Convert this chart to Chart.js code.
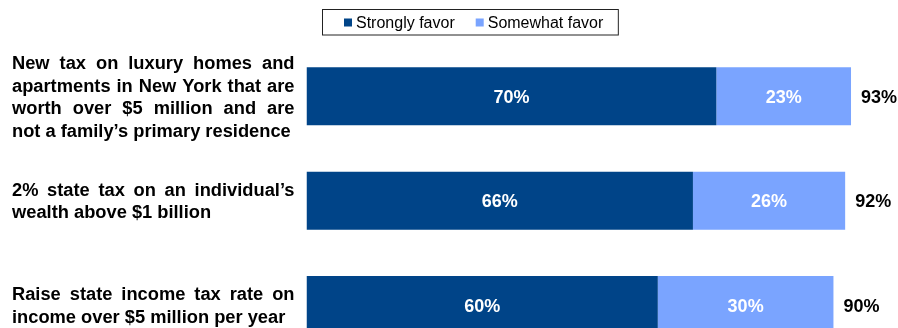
<!DOCTYPE html>
<html>
<head>
<meta charset="utf-8">
<script src="https://cdn.jsdelivr.net/npm/chart.js@4/dist/chart.umd.min.js"></script>
<style>
    html, body { margin: 0; padding: 0; background: #fff; overflow: hidden; }
    #wrap { position: relative; width: 898px; height: 360px; }
</style>
</head>
<body>
<div id="wrap"><canvas id="favorChart"></canvas></div>
<script>
// Survey items (one array of lines per item, as wrapped in the original)
const categories = [
    ['New tax on luxury homes and', 'apartments in New York that are', 'worth over $5 million and are', 'not a family\u2019s primary residence'],
    ['2% state tax on an individual\u2019s', 'wealth above $1 billion'],
    ['Raise state income tax rate on', 'income over $5 million per year']
];
const seriesNames = ['Strongly favor', 'Somewhat favor'];
const stronglyFavor = [70, 66, 60];
const somewhatFavor = [23, 26, 30];
const totalFavor = [93, 92, 90];

const DARK = 'rgb(0, 68, 136)';
const LIGHT = 'rgb(122, 164, 255)';
const FONT = '"Liberation Sans", Arial, sans-serif';

// Justified item labels on the left of each bar
const itemLabels = {
    id: 'itemLabels',
    afterDraw(chart) {
        const ctx = chart.ctx;
        const yScale = chart.scales.y;
        const left = 12, right = 294.5, lineH = 22.5;
        ctx.save();
        ctx.font = 'bold 18.3px ' + FONT;
        ctx.fillStyle = '#000';
        ctx.textBaseline = 'alphabetic';
        ctx.textAlign = 'left';
        chart.data.labels.forEach((lines, i) => {
            const cy = yScale.getPixelForValue(i);
            const firstY = cy - (lines.length - 1) / 2 * lineH;
            lines.forEach((line, j) => {
                const base = firstY + j * lineH + 6.5;
                const words = line.split(' ');
                const isLast = j === lines.length - 1;
                if (isLast || words.length < 2) {
                    ctx.fillText(line, left, base);
                    return;
                }
                const widths = words.map(w => ctx.measureText(w).width);
                const used = widths.reduce((a, b) => a + b, 0);
                const gap = (right - left - used) / (words.length - 1);
                let x = left;
                words.forEach((w, k) => {
                    ctx.fillText(w, x, base);
                    x += widths[k] + gap;
                });
            });
        });
        ctx.restore();
    }
};

// Percent labels inside segments and totals after each bar
const valueLabels = {
    id: 'valueLabels',
    afterDatasetsDraw(chart) {
        const ctx = chart.ctx;
        ctx.save();
        ctx.font = 'bold 18px ' + FONT;
        ctx.textBaseline = 'alphabetic';
        chart.data.datasets.forEach((ds, di) => {
            const meta = chart.getDatasetMeta(di);
            meta.data.forEach((bar, i) => {
                ctx.fillStyle = '#fff';
                ctx.textAlign = 'center';
                ctx.fillText(ds.data[i] + '%', (bar.x + bar.base) / 2, bar.y + 6.4);
            });
        });
        const last = chart.getDatasetMeta(chart.data.datasets.length - 1);
        last.data.forEach((bar, i) => {
            ctx.fillStyle = '#000';
            ctx.textAlign = 'left';
            ctx.fillText(totalFavor[i] + '%', bar.x + 10, bar.y + 6.4);
        });
        ctx.restore();
    }
};

// Boxed legend at the top
const boxedLegend = {
    id: 'boxedLegend',
    afterDraw(chart) {
        const ctx = chart.ctx;
        ctx.save();
        ctx.font = '16px ' + FONT;
        ctx.textBaseline = 'alphabetic';
        ctx.textAlign = 'left';
        const boxL = 322.5, boxT = 9.5, boxH = 25.5;
        let x = boxL + 21.5;
        chart.data.datasets.forEach((ds, i) => {
            ctx.fillStyle = ds.backgroundColor;
            ctx.fillRect(x, 18.5, 8, 8);
            ctx.fillStyle = '#000';
            ctx.fillText(ds.label, x + 12, 28);
            x += 12 + ctx.measureText(ds.label).width + 21;
        });
        const boxR = x - 21 + 15;
        ctx.strokeStyle = '#222';
        ctx.lineWidth = 1;
        ctx.strokeRect(boxL, boxT, boxR - boxL, boxH);
        ctx.restore();
    }
};

new Chart(document.getElementById('favorChart').getContext('2d'), {
    type: 'bar',
    data: {
        labels: categories,
        datasets: [{
            label: seriesNames[0],
            data: stronglyFavor,
            backgroundColor: DARK,
            borderWidth: 0
        }, {
            label: seriesNames[1],
            data: somewhatFavor,
            backgroundColor: LIGHT,
            borderWidth: 0
        }]
    },
    options: {
        indexAxis: 'y',
        responsive: true,
        maintainAspectRatio: false,
        animation: false,
        layout: {
            padding: { left: 306.5, right: 6, top: 44.1, bottom: 2.7 }
        },
        datasets: {
            bar: { barPercentage: 0.556, categoryPercentage: 1 }
        },
        scales: {
            x: { stacked: true, min: 0, max: 100, display: false },
            y: { stacked: true, display: false }
        },
        plugins: {
            legend: { display: false },
            tooltip: { enabled: false }
        }
    },
    plugins: [itemLabels, valueLabels, boxedLegend]
});
</script>
</body>
</html>
